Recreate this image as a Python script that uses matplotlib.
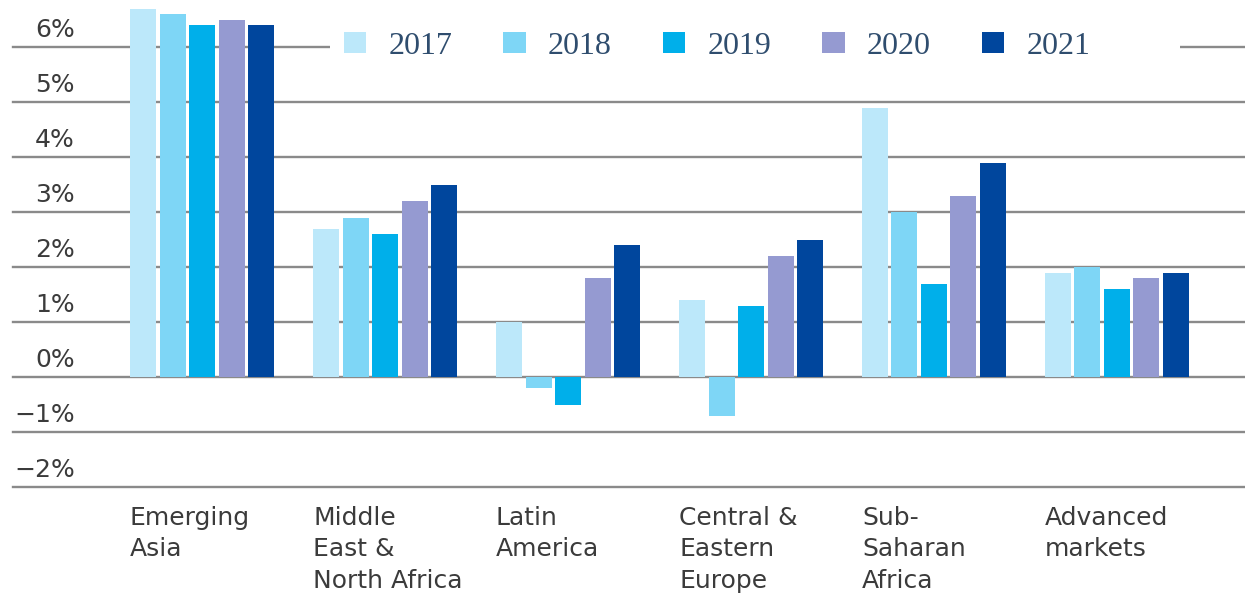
import numpy as np
import matplotlib
matplotlib.use("Agg")
import matplotlib.pyplot as plt
from matplotlib.patches import Rectangle

# Données (croissance annuelle, %)
regions = ["Emerging\nAsia", "Middle\nEast &\nNorth Africa", "Latin\nAmerica",
           "Central &\nEastern\nEurope", "Sub-\nSaharan\nAfrica", "Advanced\nmarkets"]
years = ["2017", "2018", "2019", "2020", "2021"]
growth_2017 = [6.7, 2.7, 1.0, 1.4, 4.9, 1.9]
growth_2018 = [6.6, 2.9, -0.2, -0.7, 3.0, 2.0]
growth_2019 = [6.4, 2.6, -0.5, 1.3, 1.7, 1.6]
growth_2020 = [6.5, 3.2, 1.8, 2.2, 3.3, 1.8]
growth_2021 = [6.4, 3.5, 2.4, 2.5, 3.9, 1.9]
yticks = [6, 5, 4, 3, 2, 1, 0, -1, -2]

series = [growth_2017, growth_2018, growth_2019, growth_2020, growth_2021]
colors = ["#bce8fa", "#7ed6f6", "#00afea", "#959ad1", "#00469d"]

fig = plt.figure(figsize=(12.45, 5.96), dpi=100)
ax = fig.add_axes([13 / 1245, 109 / 596, 1232 / 1245, 487 / 596])

x = np.arange(len(regions))
bar_w = 26 / 183
step = 29.5 / 183

bars = []
for j, (vals, col) in enumerate(zip(series, colors)):
    b = ax.bar(x + (j - 2) * step, vals, width=bar_w, color=col, zorder=3, label=years[j])
    bars.append(b)

ax.set_xlim((13 - 202) / 183, (1245 - 202) / 183)
ax.set_ylim(-2, 6 + 47 / 55)

# lignes horizontales
for v in yticks:
    ax.axhline(v, color="#8a8a8a", lw=1.7, zorder=1, clip_on=False)

for s in ax.spines.values():
    s.set_visible(False)
ax.set_xticks([])
ax.set_yticks([])

# étiquettes de l'axe y, au-dessus des lignes
for v in yticks:
    lab = f"{v}%" if v >= 0 else f"\u2212{abs(v)}%"
    ax.text((75 - 13) / 1232, v + 0.18, lab, transform=ax.get_yaxis_transform(),
            ha="right", va="baseline", fontsize=18, color="#3b3b3b",
            family="DejaVu Sans", zorder=4)

# étiquettes des régions, alignées à gauche sous chaque groupe
for i, r in enumerate(regions):
    ax.text(x[i] - 72 / 183, -0.038, r, transform=ax.get_xaxis_transform(),
            ha="left", va="top", fontsize=18, color="#3b3b3b",
            family="DejaVu Sans", linespacing=1.4, clip_on=False)

# fond blanc derrière la légende
ax.add_patch(Rectangle(((330 - 13) / 1232, 1 - 60 / 487), (1180 - 330) / 1232, 30 / 487,
                       transform=ax.transAxes, facecolor="white", edgecolor="none", zorder=2))

leg = ax.legend(handles=bars, loc="center left", ncol=5, frameon=False,
                bbox_to_anchor=((344 - 13) / 1232, 1 - 46 / 487),
                prop={"family": "Liberation Serif", "size": 23},
                handlelength=0.7, handleheight=0.65, handletextpad=0.7,
                columnspacing=1.59, borderpad=0, borderaxespad=0)
for t in leg.get_texts():
    t.set_color("#2f4d6e")
leg.set_zorder(5)

plt.savefig("out.png", dpi=100, facecolor="white")
